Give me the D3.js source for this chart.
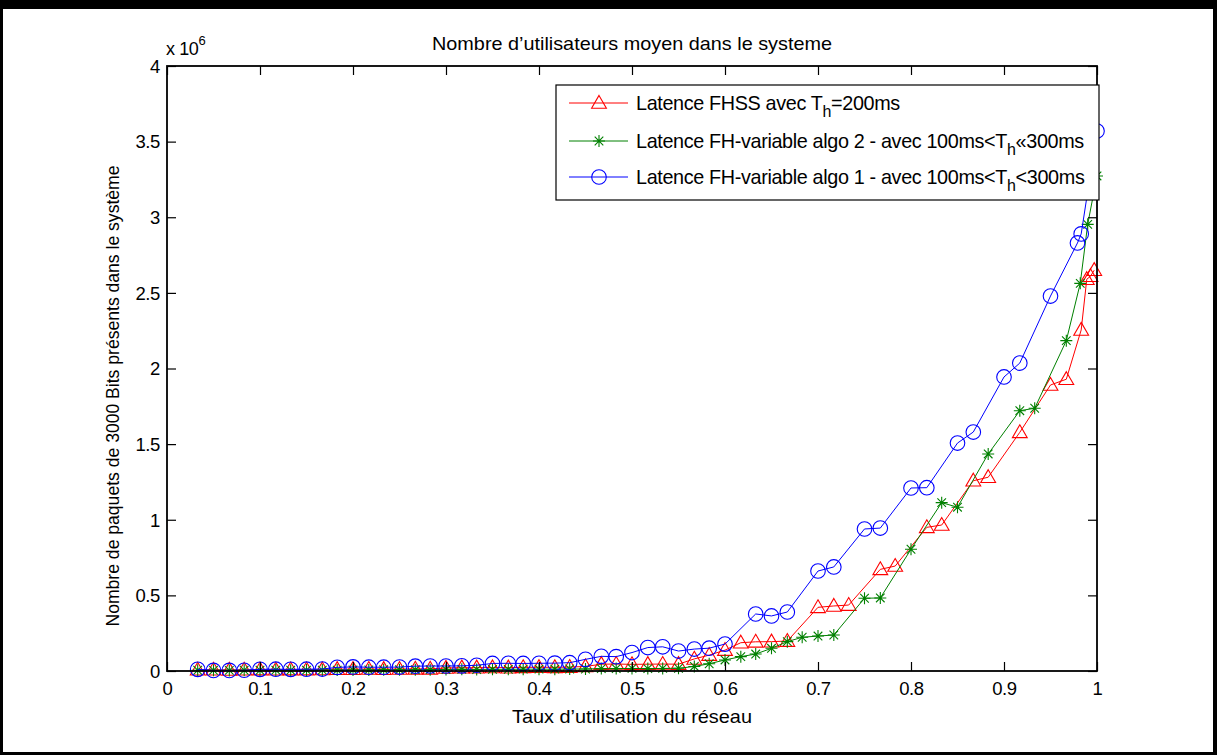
<!DOCTYPE html>
<html>
<head>
<meta charset="utf-8">
<script src="https://cdn.jsdelivr.net/npm/d3@7"></script>
<style>
  html, body { margin: 0; padding: 0; background: #fff; }
  svg { display: block; }
  text { font-family: "Liberation Sans", Arial, Helvetica, sans-serif; fill: #000; }
</style>
</head>
<body>
<svg id="chart" width="1217" height="755"></svg>
<script>
// Network utilisation (x) and mean number of packets in the system (y, in units of 10^6)

// Latence FHSS avec Th = 200 ms
const utilFHSS = [0.033, 0.05, 0.067, 0.083, 0.1, 0.117, 0.133, 0.15, 0.167, 0.183, 0.2, 0.217, 0.233, 0.25,
  0.267, 0.283, 0.3, 0.317, 0.333, 0.35, 0.367, 0.383, 0.4, 0.417, 0.433, 0.45, 0.467, 0.483, 0.5, 0.517,
  0.533, 0.55, 0.567, 0.583, 0.6, 0.617, 0.633, 0.65, 0.667, 0.7, 0.717, 0.733, 0.767, 0.783, 0.817, 0.833,
  0.867, 0.883, 0.917, 0.95, 0.967, 0.983, 0.989, 0.993, 0.997];
const packetsFHSS = [0.008, 0.008, 0.007, 0.008, 0.009, 0.008, 0.009, 0.009, 0.01, 0.012, 0.012, 0.013, 0.012,
  0.013, 0.014, 0.014, 0.02, 0.022, 0.022, 0.023, 0.022, 0.024, 0.025, 0.024, 0.026, 0.03, 0.045, 0.046, 0.044,
  0.045, 0.046, 0.045, 0.08, 0.105, 0.138, 0.187, 0.193, 0.194, 0.198, 0.421, 0.43, 0.436, 0.672, 0.694,
  0.95, 0.965, 1.258, 1.281, 1.578, 1.891, 1.929, 2.255, 2.59, 2.61, 2.65];

// Latence FH-variable algo 2
const utilAlgo2 = [0.033, 0.05, 0.067, 0.083, 0.1, 0.117, 0.133, 0.15, 0.167, 0.183, 0.2, 0.217, 0.233, 0.25,
  0.267, 0.283, 0.3, 0.317, 0.333, 0.35, 0.367, 0.383, 0.4, 0.417, 0.433, 0.45, 0.467, 0.483, 0.5, 0.517,
  0.533, 0.55, 0.567, 0.583, 0.6, 0.617, 0.633, 0.65, 0.667, 0.683, 0.7, 0.717, 0.75, 0.767, 0.8, 0.833,
  0.85, 0.883, 0.917, 0.933, 0.967, 0.982, 0.99, 1.0];
const packetsAlgo2 = [0.005, 0.005, 0.004, 0.005, 0.005, 0.006, 0.005, 0.006, 0.006, 0.006, 0.007, 0.007, 0.008,
  0.008, 0.008, 0.009, 0.01, 0.011, 0.01, 0.011, 0.011, 0.012, 0.012, 0.012, 0.013, 0.013, 0.016, 0.016, 0.017,
  0.016, 0.017, 0.018, 0.03, 0.048, 0.073, 0.095, 0.112, 0.15, 0.194, 0.223, 0.231, 0.238, 0.481, 0.483,
  0.805, 1.113, 1.083, 1.435, 1.721, 1.737, 2.184, 2.563, 2.953, 3.273];

// Latence FH-variable algo 1
const utilAlgo1 = [0.033, 0.05, 0.067, 0.083, 0.1, 0.117, 0.133, 0.15, 0.167, 0.183, 0.2, 0.217, 0.233, 0.25,
  0.267, 0.283, 0.3, 0.317, 0.333, 0.35, 0.367, 0.383, 0.4, 0.417, 0.433, 0.45, 0.467, 0.483, 0.5, 0.517,
  0.533, 0.55, 0.567, 0.583, 0.6, 0.633, 0.65, 0.667, 0.7, 0.717, 0.75, 0.767, 0.8, 0.817, 0.85, 0.867,
  0.9, 0.917, 0.95, 0.979, 0.983, 1.0];
const packetsAlgo1 = [0.011, 0.004, 0.004, 0.005, 0.011, 0.012, 0.011, 0.012, 0.013, 0.024, 0.027, 0.025, 0.025,
  0.026, 0.032, 0.033, 0.033, 0.034, 0.038, 0.05, 0.051, 0.05, 0.051, 0.052, 0.055, 0.077, 0.097, 0.095,
  0.122, 0.155, 0.16, 0.132, 0.145, 0.151, 0.178, 0.377, 0.364, 0.39, 0.661, 0.688, 0.939, 0.945, 1.21,
  1.212, 1.507, 1.58, 1.944, 2.036, 2.479, 2.83, 2.89, 3.57];

const xTickValues = [0, 0.1, 0.2, 0.3, 0.4, 0.5, 0.6, 0.7, 0.8, 0.9, 1];
const xTickLabels = ["0", "0.1", "0.2", "0.3", "0.4", "0.5", "0.6", "0.7", "0.8", "0.9", "1"];
const yTickValues = [0, 0.5, 1, 1.5, 2, 2.5, 3, 3.5, 4];
const yTickLabels = ["0", "0.5", "1", "1.5", "2", "2.5", "3", "3.5", "4"];

const seriesNames = [
  { main: "Latence FHSS avec T", sub: "h", tail: "=200ms" },
  { main: "Latence FH-variable algo 2 - avec 100ms<T", sub: "h", tail: "«300ms" },
  { main: "Latence FH-variable algo 1 - avec 100ms<T", sub: "h", tail: "<300ms" }
];
const seriesColors = ["#ff0000", "#008000", "#0000ff"];
const seriesMarkers = ["triangle", "star", "circle"];

const series = [
  { x: utilFHSS, y: packetsFHSS },
  { x: utilAlgo2, y: packetsAlgo2 },
  { x: utilAlgo1, y: packetsAlgo1 }
].map((s, i) => ({
  points: s.x.map((v, j) => [v, s.y[j]]),
  name: seriesNames[i],
  color: seriesColors[i],
  marker: seriesMarkers[i]
}));

const svg = d3.select("#chart");
const W = 1217, H = 755;
const plot = { left: 167, right: 1097, top: 66, bottom: 671 };

svg.append("rect").attr("width", W).attr("height", H).attr("fill", "#fff");

const x = d3.scaleLinear().domain([0, 1]).range([plot.left, plot.right]);
const y = d3.scaleLinear().domain([0, 4]).range([plot.bottom, plot.top]);

// Markers
const triPath = d3.symbol().type(d3.symbolTriangle).size(95)();
function drawMarker(g, type, color, px, py) {
  if (type === "triangle") {
    g.append("path").attr("d", triPath)
      .attr("transform", `translate(${px},${py + 1})`)
      .attr("fill", "none").attr("stroke", color).attr("stroke-width", 1.1);
  } else if (type === "circle") {
    g.append("circle").attr("cx", px).attr("cy", py).attr("r", 7.3)
      .attr("fill", "none").attr("stroke", color).attr("stroke-width", 1.1);
  } else {
    const r = 6, d = 4.3;
    g.append("path")
      .attr("d", `M${px - r},${py}H${px + r}M${px},${py - r}V${py + r}` +
                 `M${px - d},${py - d}L${px + d},${py + d}M${px - d},${py + d}L${px + d},${py - d}`)
      .attr("stroke", color).attr("stroke-width", 1.1).attr("fill", "none");
  }
}

// Series lines and markers
const line = d3.line().x(d => x(d[0])).y(d => y(d[1]));
const dataG = svg.append("g");
series.forEach(s => {
  const g = dataG.append("g");
  g.append("path").datum(s.points).attr("d", line)
    .attr("fill", "none").attr("stroke", s.color).attr("stroke-width", 1);
  s.points.forEach(p => drawMarker(g, s.marker, s.color, x(p[0]), y(p[1])));
});

// Axes with inward ticks on all four sides
const tick = 9;
const axG = svg.append("g").attr("font-size", 18);
const bottomAxis = axG.append("g").attr("transform", `translate(0,${plot.bottom})`)
  .call(d3.axisBottom(x).tickValues(xTickValues).tickFormat((d, i) => xTickLabels[i])
    .tickSizeInner(-tick).tickSizeOuter(0).tickPadding(11));
const leftAxis = axG.append("g").attr("transform", `translate(${plot.left},0)`)
  .call(d3.axisLeft(y).tickValues(yTickValues).tickFormat((d, i) => yTickLabels[i])
    .tickSizeInner(-tick).tickSizeOuter(0).tickPadding(7));
const topAxis = axG.append("g").attr("transform", `translate(0,${plot.top})`)
  .call(d3.axisTop(x).tickValues(xTickValues).tickFormat("").tickSizeInner(-tick).tickSizeOuter(0));
const rightAxis = axG.append("g").attr("transform", `translate(${plot.right},0)`)
  .call(d3.axisRight(y).tickValues(yTickValues).tickFormat("").tickSizeInner(-tick).tickSizeOuter(0));
[bottomAxis, leftAxis, topAxis, rightAxis].forEach(a => {
  a.select(".domain").remove();
  a.selectAll("line").attr("stroke", "#000").attr("stroke-width", 1.2);
  a.selectAll("text").attr("font-family", "\"Liberation Sans\", Arial, sans-serif")
    .attr("font-size", 18.5).attr("fill", "#000").attr("letter-spacing", -0.4);
});
leftAxis.selectAll("text").attr("dy", "0.34em");

svg.append("rect")
  .attr("x", plot.left).attr("y", plot.top)
  .attr("width", plot.right - plot.left).attr("height", plot.bottom - plot.top)
  .attr("fill", "none").attr("stroke", "#000").attr("stroke-width", 1.8);

// Exponent label of the y axis
const expo = svg.append("text").attr("x", 166).attr("y", 55).attr("font-size", 18).attr("letter-spacing", -0.4);
expo.append("tspan").text("x 10");
expo.append("tspan").attr("dy", -10).attr("font-size", 13).text("6");

// Title and axis labels
svg.append("text").attr("x", (plot.left + plot.right) / 2).attr("y", 50)
  .attr("text-anchor", "middle").attr("font-size", 19)
  .attr("textLength", 400).attr("lengthAdjust", "spacingAndGlyphs")
  .text("Nombre d’utilisateurs moyen dans le systeme");
svg.append("text").attr("x", (plot.left + plot.right) / 2).attr("y", 723)
  .attr("text-anchor", "middle").attr("font-size", 19)
  .attr("textLength", 240).attr("lengthAdjust", "spacingAndGlyphs")
  .text("Taux d’utilisation du réseau");
svg.append("text")
  .attr("transform", "translate(119,396) rotate(-90)")
  .attr("text-anchor", "middle").attr("font-size", 18.5)
  .attr("textLength", 461).attr("lengthAdjust", "spacingAndGlyphs")
  .text("Nombre de paquets de 3000 Bits présents dans le système");

// Legend
const lg = svg.append("g");
lg.append("rect").attr("x", 556).attr("y", 85).attr("width", 543).attr("height", 115)
  .attr("fill", "#fff").attr("stroke", "#000").attr("stroke-width", 1.2);
const rowY = [103, 141, 177];
series.forEach((s, i) => {
  const ry = rowY[i];
  lg.append("line").attr("x1", 569).attr("x2", 628).attr("y1", ry).attr("y2", ry)
    .attr("stroke", s.color).attr("stroke-width", 1);
  drawMarker(lg, s.marker, s.color, 599, ry);
  const t = lg.append("text").attr("x", 636).attr("y", ry + 7)
    .attr("font-size", 19.8).attr("letter-spacing", -0.35);
  t.append("tspan").text(s.name.main);
  t.append("tspan").attr("dy", 7).attr("font-size", 16).text(s.name.sub);
  t.append("tspan").attr("dy", -7).text(s.name.tail);
});

// Figure frame
svg.append("rect").attr("x", 0).attr("y", 0).attr("width", W).attr("height", 9).attr("fill", "#000");
svg.append("rect").attr("x", 0).attr("y", 0).attr("width", 3).attr("height", H).attr("fill", "#000");
svg.append("rect").attr("x", W - 4).attr("y", 0).attr("width", 4).attr("height", H).attr("fill", "#000");
svg.append("rect").attr("x", 0).attr("y", H - 3).attr("width", W).attr("height", 3).attr("fill", "#000");
</script>
</body>
</html>
